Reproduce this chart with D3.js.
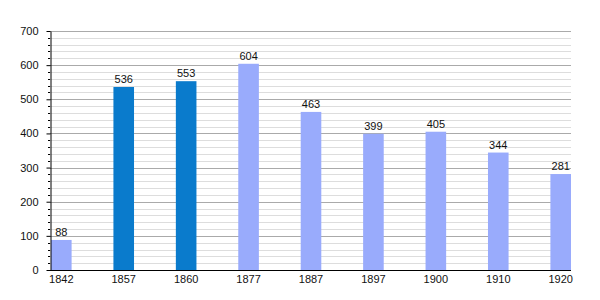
<!DOCTYPE html>
<html>
<head>
<meta charset="utf-8">
<script src="https://cdn.jsdelivr.net/npm/d3@7"></script>
<style>
  body { margin: 0; background: #fff; }
  svg { font-family: "Liberation Sans", Arial, sans-serif; }
</style>
</head>
<body>
<div id="chart"></div>
<script>
// population by census year
const years = ["1842", "1857", "1860", "1877", "1887", "1897", "1900", "1910", "1920"]
const population = [88, 536, 553, 604, 463, 399, 405, 344, 281]
// years drawn in the darker colour
const highlighted = ["1857", "1860"]
const yTicks = [0, 100, 200, 300, 400, 500, 600, 700]

const width = 600, height = 300

const svg = d3.select("#chart")
  .append("svg")
    .attr("width", width)
    .attr("height", height)

const x = d3.scaleBand()
  .domain(years)
  .range([51, 571])
  .paddingInner(0.67)
  .paddingOuter(0)

const y = d3.scaleLinear()
  .domain([0, 700])
  .range([270, 31])

// minor grid every 20, major every 100
const minor = d3.range(20, 701, 20).filter(v => v % 100 !== 0)
svg.append("g")
  .selectAll("line")
  .data(minor)
  .join("line")
    .attr("x1", 50).attr("x2", 571)
    .attr("y1", d => Math.round(y(d)) + 0.5)
    .attr("y2", d => Math.round(y(d)) + 0.5)
    .attr("stroke", "#dddddd")

svg.append("g")
  .selectAll("line")
  .data(yTicks.slice(1))
  .join("line")
    .attr("x1", 50).attr("x2", 571)
    .attr("y1", d => Math.round(y(d)) + 0.5)
    .attr("y2", d => Math.round(y(d)) + 0.5)
    .attr("stroke", "#aaaaaa")

// bars
svg.append("g")
  .selectAll("rect")
  .data(years)
  .join("rect")
    .attr("x", d => x(d))
    .attr("y", (d, i) => y(population[i]))
    .attr("width", x.bandwidth())
    .attr("height", (d, i) => y(0) - y(population[i]))
    .attr("fill", d => highlighted.includes(d) ? "#0a7bcc" : "#99abfc")

// value labels
svg.append("g")
  .selectAll("text")
  .data(years)
  .join("text")
    .attr("x", d => x(d) + x.bandwidth() / 2)
    .attr("y", (d, i) => y(population[i]) - 4)
    .attr("text-anchor", "middle")
    .attr("font-size", 11)
    .attr("fill", "#111")
    .text((d, i) => population[i])

// y axis with minor ticks
const yAxis = svg.append("g")
  .attr("transform", "translate(50.5,0)")
  .call(d3.axisLeft(y).tickValues(yTicks).tickSize(4).tickSizeOuter(0))
yAxis.selectAll(".tick text").attr("font-size", 11).attr("fill", "#111").attr("x", -12)
yAxis.select(".domain").attr("stroke", "#000")

svg.append("g")
  .selectAll("line")
  .data(minor)
  .join("line")
    .attr("x1", 48).attr("x2", 50)
    .attr("y1", d => Math.round(y(d)) + 0.5)
    .attr("y2", d => Math.round(y(d)) + 0.5)
    .attr("stroke", "#000")

// x axis
const xAxis = svg.append("g")
  .attr("transform", "translate(0,270.5)")
  .call(d3.axisBottom(x).tickSize(0).tickSizeOuter(0))
xAxis.selectAll(".tick text").attr("font-size", 11).attr("fill", "#111").attr("dy", "0.9em")
xAxis.select(".domain").attr("stroke", "#000").attr("d", "M50,0H571")
</script>
</body>
</html>
